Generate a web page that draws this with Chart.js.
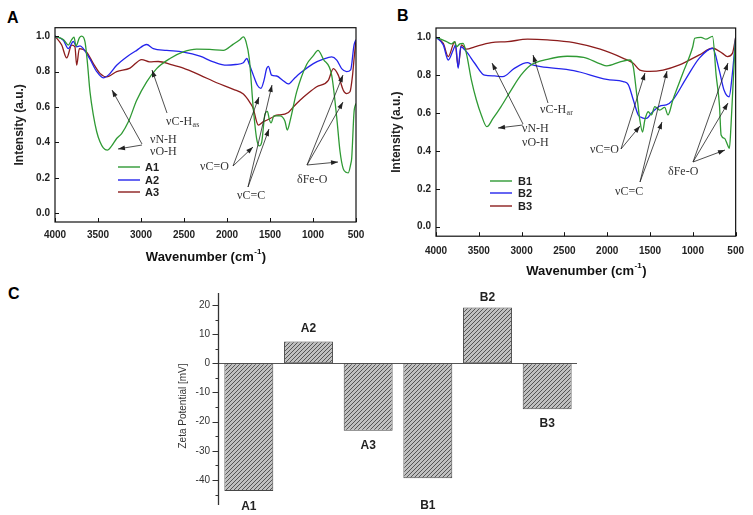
<!DOCTYPE html>
<html>
<head>
<meta charset="utf-8">
<title>FTIR spectra and zeta potential</title>
<script src="https://cdn.jsdelivr.net/npm/chart.js@4.4.1/dist/chart.umd.min.js"></script>
<style>
  html, body { margin: 0; padding: 0; background: #fff; }
  body { position: relative; width: 753px; height: 515px; overflow: hidden; }
  canvas { position: absolute; }
  .panel { position: absolute; font: bold 16px "Liberation Sans", Arial, sans-serif; line-height: 1; color: #000; }
</style>
</head>
<body>
<div class="panel" style="left:7px;top:10px">A</div>
<div class="panel" style="left:397px;top:8px">B</div>
<div class="panel" style="left:8px;top:286px">C</div>
<canvas id="chartA" width="380" height="268" style="left:0;top:0"></canvas>
<canvas id="chartB" width="373" height="282" style="left:380px;top:0"></canvas>
<canvas id="chartC" width="450" height="242" style="left:150px;top:278px"></canvas>
<script>
// ---- data ----
const wnTicks = [4000, 3500, 3000, 2500, 2000, 1500, 1000, 500];
const intTicks = [0, 0.2, 0.4, 0.6, 0.8, 1.0];

// Panel A
const a1Wn = [4000, 3900, 3845, 3806, 3779, 3756, 3717, 3690, 3651, 3624, 3593, 3554, 3515, 3477, 3438, 3392, 3341, 3283, 3225, 3147, 3050, 2934, 2818, 2663, 2508, 2353, 2200, 2043, 1926, 1850, 1810, 1780, 1740, 1694, 1655, 1624, 1597, 1558, 1530, 1508, 1488, 1453, 1384, 1326, 1299, 1267, 1190, 1074, 996, 942, 880, 783, 724, 686, 648, 610, 590, 560, 550, 523, 500];
const a1Int = [1.0, 0.98, 0.95, 0.98, 0.995, 0.945, 0.99, 1.0, 0.968, 0.855, 0.685, 0.554, 0.46, 0.403, 0.369, 0.356, 0.38, 0.422, 0.45, 0.516, 0.638, 0.742, 0.817, 0.874, 0.911, 0.927, 0.925, 0.92, 0.955, 0.98, 0.996, 0.97, 0.87, 0.59, 0.42, 0.38, 0.40, 0.56, 0.575, 0.53, 0.51, 0.55, 0.55, 0.52, 0.47, 0.52, 0.685, 0.84, 0.89, 0.92, 0.87, 0.78, 0.54, 0.35, 0.25, 0.23, 0.228, 0.28, 0.31, 0.57, 0.62];

const a2Wn = [4000, 3903, 3845, 3787, 3748, 3709, 3671, 3593, 3515, 3438, 3380, 3283, 3167, 3050, 2934, 2857, 2701, 2508, 2314, 2159, 2004, 1900, 1810, 1770, 1740, 1694, 1647, 1605, 1570, 1539, 1519, 1481, 1423, 1350, 1287, 1220, 1151, 996, 880, 783, 724, 667, 609, 562, 523, 500];
const a2Int = [1.0, 0.977, 0.93, 0.97, 0.94, 0.945, 0.93, 0.87, 0.80, 0.765, 0.78, 0.836, 0.883, 0.92, 0.953, 0.93, 0.92, 0.91, 0.887, 0.855, 0.836, 0.84, 0.85, 0.874, 0.84, 0.78, 0.723, 0.705, 0.75, 0.817, 0.83, 0.78, 0.775, 0.75, 0.73, 0.76, 0.79, 0.845, 0.87, 0.883, 0.865, 0.817, 0.80, 0.81, 0.95, 0.98];

const a3Wn = [4000, 3922, 3864, 3806, 3768, 3748, 3717, 3632, 3554, 3477, 3399, 3283, 3128, 2992, 2900, 2800, 2650, 2508, 2314, 2120, 1926, 1810, 1733, 1694, 1655, 1636, 1578, 1539, 1461, 1423, 1384, 1287, 1229, 1151, 1050, 957, 822, 764, 706, 648, 609, 570, 540, 523, 500];
const a3Int = [1.0, 0.95, 0.877, 0.95, 0.94, 0.836, 0.93, 0.91, 0.845, 0.79, 0.77, 0.80, 0.82, 0.868, 0.855, 0.857, 0.84, 0.82, 0.78, 0.737, 0.70, 0.673, 0.625, 0.59, 0.516, 0.497, 0.517, 0.525, 0.545, 0.554, 0.555, 0.569, 0.60, 0.638, 0.68, 0.714, 0.75, 0.817, 0.78, 0.695, 0.676, 0.686, 0.78, 0.87, 0.98];

// Panel B
const b1Wn = [4000, 3876, 3819, 3780, 3760, 3722, 3684, 3645, 3587, 3529, 3471, 3406, 3336, 3240, 3124, 3008, 2892, 2699, 2468, 2275, 2082, 2005, 1850, 1734, 1696, 1657, 1619, 1588, 1561, 1522, 1483, 1445, 1387, 1329, 1291, 1233, 1117, 1001, 978, 905, 847, 770, 728, 689, 670, 631, 593, 573, 554, 515, 500];
const b1Int = [1.0, 0.977, 0.965, 0.977, 0.95, 0.965, 0.968, 0.915, 0.775, 0.67, 0.59, 0.528, 0.57, 0.634, 0.72, 0.80, 0.854, 0.884, 0.90, 0.894, 0.86, 0.849, 0.87, 0.88, 0.845, 0.704, 0.563, 0.50, 0.563, 0.607, 0.59, 0.634, 0.616, 0.63, 0.59, 0.67, 0.81, 0.95, 0.995, 1.0, 0.99, 1.005, 0.80, 0.64, 0.484, 0.467, 0.43, 0.414, 0.537, 0.89, 1.0];

const b2Wn = [4000, 3915, 3857, 3799, 3770, 3741, 3711, 3645, 3548, 3433, 3317, 3220, 3085, 2931, 2873, 2777, 2391, 2005, 1812, 1754, 1696, 1638, 1590, 1542, 1483, 1387, 1310, 1233, 1078, 924, 770, 692, 635, 577, 538, 500];
const b2Int = [1.0, 0.96, 0.88, 0.933, 0.96, 0.836, 0.95, 0.924, 0.863, 0.80, 0.796, 0.792, 0.836, 0.866, 0.854, 0.845, 0.824, 0.778, 0.766, 0.75, 0.67, 0.59, 0.575, 0.572, 0.60, 0.637, 0.643, 0.67, 0.783, 0.89, 0.942, 0.827, 0.72, 0.686, 0.81, 1.0];

const b3Wn = [4000, 3915, 3857, 3780, 3741, 3703, 3645, 3548, 3355, 3162, 2931, 2699, 2391, 2082, 1812, 1696, 1619, 1503, 1349, 1156, 924, 770, 654, 596, 538, 500];
const b3Int = [1.0, 0.968, 0.898, 0.977, 0.845, 0.96, 0.937, 0.95, 0.972, 0.977, 0.99, 0.986, 0.972, 0.937, 0.889, 0.863, 0.827, 0.82, 0.827, 0.854, 0.907, 0.942, 0.915, 0.898, 0.915, 1.0];

// Panel C
const zetaLabels = ['A1', 'A2', 'A3', 'B1', 'B2', 'B3'];
const zetaValues = [-43.8, 7.5, -23.1, -39.4, 19.1, -15.8];
const zetaTicks = [20, 10, 0, -10, -20, -30, -40];
const zetaMinorTicks = [15, 5, -5, -15, -25, -35, -45];

const GREEN = '#2f9a34', BLUE = '#2424ec', RED = '#8c1d1d';
const SANS = '"Liberation Sans", Arial, sans-serif';
const SERIF = '"Liberation Serif", "Times New Roman", serif';

Chart.defaults.font.family = SANS;
Chart.defaults.color = '#222';

// ---- drawing helpers ----
function arrow(ctx, x1, y1, x2, y2) {
    ctx.beginPath();
    ctx.moveTo(x1, y1);
    ctx.lineTo(x2, y2);
    ctx.stroke();
    const a = Math.atan2(y2 - y1, x2 - x1), L = 7, W = 2.4;
    ctx.beginPath();
    ctx.moveTo(x2, y2);
    ctx.lineTo(x2 - L * Math.cos(a) + W * Math.sin(a), y2 - L * Math.sin(a) - W * Math.cos(a));
    ctx.lineTo(x2 - L * Math.cos(a) - W * Math.sin(a), y2 - L * Math.sin(a) + W * Math.cos(a));
    ctx.closePath();
    ctx.fill();
}

function xTitle(ctx, cx, cy) {
    const big = 'bold 13px ' + SANS, small = 'bold 8px ' + SANS;
    ctx.font = big;
    const w1 = ctx.measureText('Wavenumber (cm').width;
    const w3 = ctx.measureText(')').width;
    ctx.font = small;
    const w2 = ctx.measureText('-1').width;
    let x = cx - (w1 + w2 + w3) / 2;
    ctx.textAlign = 'left';
    ctx.textBaseline = 'middle';
    ctx.fillStyle = '#111';
    ctx.font = big;
    ctx.fillText('Wavenumber (cm', x, cy);
    ctx.font = small;
    ctx.fillText('-1', x + w1 + 0.5, cy - 5);
    ctx.font = big;
    ctx.fillText(')', x + w1 + w2 + 1, cy);
}

// ---- FTIR spectrum chart ----
function makeSpectrum(id, series, cfg) {
    const decor = {
        id: 'decor',
        afterDraw(chart) {
            const ctx = chart.ctx, a = chart.chartArea;
            const sx = chart.scales.x, sy = chart.scales.y;
            ctx.save();
            // frame
            ctx.strokeStyle = '#111';
            ctx.lineWidth = 1.2;
            ctx.strokeRect(a.left, a.top, a.right - a.left, a.bottom - a.top);
            // inward tick marks
            ctx.lineWidth = 1;
            ctx.beginPath();
            wnTicks.forEach(v => {
                const px = Math.round(sx.getPixelForValue(v)) + 0.5;
                ctx.moveTo(px, a.bottom);
                ctx.lineTo(px, a.bottom - 4);
            });
            intTicks.forEach(v => {
                const py = Math.round(sy.getPixelForValue(v)) + 0.5;
                ctx.moveTo(a.left, py);
                ctx.lineTo(a.left + 4, py);
            });
            ctx.stroke();

            xTitle(ctx, (a.left + a.right) / 2, cfg.xTitleY);

            // band assignments
            ctx.strokeStyle = '#222';
            ctx.fillStyle = '#222';
            ctx.lineWidth = 0.8;
            cfg.arrows.forEach(p => arrow(ctx, p[0] - cfg.dx, p[1], p[2] - cfg.dx, p[3]));
            ctx.textAlign = 'left';
            ctx.textBaseline = 'middle';
            cfg.notes.forEach(n => {
                ctx.font = '12px ' + SERIF;
                ctx.fillStyle = '#333';
                ctx.fillText(n.text, n.x - cfg.dx, n.y);
                if (n.sub) {
                    const w = ctx.measureText(n.text).width;
                    ctx.font = '8px ' + SERIF;
                    ctx.fillText(n.sub, n.x - cfg.dx + w + 0.5, n.y + 3);
                }
            });

            // legend
            series.forEach((s, i) => {
                const y = cfg.legend.y[i];
                ctx.strokeStyle = s.color;
                ctx.lineWidth = 1.4;
                ctx.beginPath();
                ctx.moveTo(cfg.legend.x0 - cfg.dx, y);
                ctx.lineTo(cfg.legend.x1 - cfg.dx, y);
                ctx.stroke();
                ctx.fillStyle = '#222';
                ctx.font = 'bold 11px ' + SANS;
                ctx.fillText(s.name, cfg.legend.tx - cfg.dx, y + 0.5);
            });
            ctx.restore();
        }
    };

    return new Chart(document.getElementById(id), {
        type: 'line',
        data: {
            datasets: series.map(s => ({
                label: s.name,
                data: s.wn.map((w, i) => ({ x: w, y: s.val[i] })),
                borderColor: s.color,
                borderWidth: 1.3,
                pointRadius: 0,
                cubicInterpolationMode: 'monotone',
                fill: false
            }))
        },
        options: {
            responsive: false,
            animation: false,
            events: [],
            layout: { padding: { top: cfg.top, right: cfg.right, left: 0, bottom: 0 } },
            plugins: { legend: { display: false }, tooltip: { enabled: false } },
            scales: {
                x: {
                    type: 'linear', reverse: true, min: 500, max: 4000,
                    afterBuildTicks: s => { s.ticks = wnTicks.map(v => ({ value: v })); },
                    afterFit: s => { s.height = cfg.xAxisH; },
                    grid: { display: false, drawTicks: false },
                    border: { display: false },
                    ticks: { padding: cfg.xTickPad, maxRotation: 0, autoSkip: false, color: '#222',
                             font: { size: 10, weight: 'bold' }, callback: v => String(v) }
                },
                y: {
                    min: -0.05, max: cfg.ymax,
                    afterBuildTicks: s => { s.ticks = intTicks.map(v => ({ value: v })); },
                    afterFit: s => { s.width = cfg.yAxisW; },
                    grid: { display: false, drawTicks: false },
                    border: { display: false },
                    ticks: { padding: 5, color: '#222', font: { size: 10, weight: 'bold' },
                             callback: v => v.toFixed(1) },
                    title: { display: true, text: 'Intensity (a.u.)', color: '#222',
                             font: { size: 12, weight: 'bold' },
                             padding: { top: cfg.yTitlePad, bottom: 0 } }
                }
            }
        },
        plugins: [decor]
    });
}

makeSpectrum('chartA', [
    { name: 'A1', wn: a1Wn, val: a1Int, color: GREEN },
    { name: 'A2', wn: a2Wn, val: a2Int, color: BLUE },
    { name: 'A3', wn: a3Wn, val: a3Int, color: RED }
], {
    dx: 0, top: 27.7, right: 24, ymax: 1.048, xAxisH: 46, yAxisW: 55,
    xTickPad: 7, yTitlePad: 12.5, xTitleY: 257,
    legend: { x0: 118, x1: 140, tx: 145, y: [167, 180, 192] },
    notes: [
        { text: 'νN-H', x: 150, y: 140 },
        { text: 'νO-H', x: 150, y: 152 },
        { text: 'νC-H', sub: 'as', x: 166, y: 122 },
        { text: 'νC=O', x: 200, y: 167 },
        { text: 'νC=C', x: 237, y: 196 },
        { text: 'δFe-O', x: 297, y: 180 }
    ],
    arrows: [
        [142, 144, 112, 90], [142, 145, 118, 149],
        [167, 113, 152, 70],
        [233, 166, 259, 97], [233, 166, 253, 147],
        [248, 187, 272, 85], [248, 187, 269, 129],
        [307, 165, 343, 75], [307, 165, 343, 102], [307, 165, 338, 162]
    ]
});

makeSpectrum('chartB', [
    { name: 'B1', wn: b1Wn, val: b1Int, color: GREEN },
    { name: 'B2', wn: b2Wn, val: b2Int, color: BLUE },
    { name: 'B3', wn: b3Wn, val: b3Int, color: RED }
], {
    dx: 380, top: 28, right: 15, ymax: 1.049, xAxisH: 45.8, yAxisW: 56,
    xTickPad: 9, yTitlePad: 9.5, xTitleY: 271,
    legend: { x0: 490, x1: 512, tx: 518, y: [181, 193, 206] },
    notes: [
        { text: 'νN-H', x: 522, y: 129 },
        { text: 'νO-H', x: 522, y: 143 },
        { text: 'νC-H', sub: 'ar', x: 540, y: 110 },
        { text: 'νC=O', x: 590, y: 150 },
        { text: 'νC=C', x: 615, y: 192 },
        { text: 'δFe-O', x: 668, y: 172 }
    ],
    arrows: [
        [523, 124, 492, 63], [523, 125, 498, 128],
        [548, 103, 533, 55],
        [621, 149, 645, 73], [621, 149, 640, 126],
        [640, 182, 667, 71], [640, 182, 662, 122],
        [693, 162, 728, 63], [693, 162, 728, 103], [693, 162, 725, 150]
    ]
});

// ---- zeta potential bar chart ----
const ctxC = document.getElementById('chartC').getContext('2d');
function hatchPattern() {
    const c = document.createElement('canvas');
    c.width = 4; c.height = 4;
    const g = c.getContext('2d');
    g.fillStyle = '#c0c0c0';
    g.fillRect(0, 0, 4, 4);
    g.strokeStyle = '#555';
    g.lineWidth = 1;
    g.beginPath();
    g.moveTo(0, 4); g.lineTo(4, 0);
    g.moveTo(-1, 1); g.lineTo(1, -1);
    g.moveTo(3, 5); g.lineTo(5, 3);
    g.stroke();
    return ctxC.createPattern(c, 'repeat');
}

const labelOffsets = [16, -13, 15, 28, -10, 14];

const zetaDecor = {
    id: 'zetaDecor',
    beforeDatasetsDraw(chart) {
        const ctx = chart.ctx, a = chart.chartArea, sy = chart.scales.y;
        ctx.save();
        const y0 = Math.round(sy.getPixelForValue(0)) + 0.5;
        ctx.strokeStyle = '#555';
        ctx.lineWidth = 1.2;
        ctx.beginPath();
        ctx.moveTo(a.left, y0);
        ctx.lineTo(a.right, y0);
        ctx.stroke();
        ctx.restore();
    },
    afterDraw(chart) {
        const ctx = chart.ctx, a = chart.chartArea, sy = chart.scales.y;
        ctx.save();
        // axis line and tick marks
        const ax = Math.round(a.left) - 0.5;
        ctx.strokeStyle = '#333';
        ctx.lineWidth = 1.3;
        ctx.beginPath();
        ctx.moveTo(ax, a.top);
        ctx.lineTo(ax, a.bottom);
        ctx.stroke();
        ctx.lineWidth = 1;
        ctx.beginPath();
        zetaTicks.forEach(v => {
            const py = Math.round(sy.getPixelForValue(v)) + 0.5;
            ctx.moveTo(ax, py); ctx.lineTo(ax - 6, py);
        });
        zetaMinorTicks.forEach(v => {
            const py = Math.round(sy.getPixelForValue(v)) + 0.5;
            ctx.moveTo(ax, py); ctx.lineTo(ax - 3, py);
        });
        ctx.stroke();

        // axis title
        ctx.save();
        ctx.translate(33, 128);
        ctx.rotate(-Math.PI / 2);
        ctx.font = '10px ' + SANS;
        ctx.fillStyle = '#333';
        ctx.textAlign = 'center';
        ctx.textBaseline = 'middle';
        ctx.fillText('Zeta Potential [mV]', 0, 0);
        ctx.restore();

        // bar names
        const meta = chart.getDatasetMeta(0);
        ctx.font = 'bold 12px ' + SANS;
        ctx.fillStyle = '#222';
        ctx.textAlign = 'center';
        ctx.textBaseline = 'middle';
        meta.data.forEach((bar, i) => {
            ctx.fillText(zetaLabels[i], bar.x, bar.y + labelOffsets[i]);
        });
        ctx.restore();
    }
};

new Chart(ctxC, {
    type: 'bar',
    data: {
        labels: zetaLabels,
        datasets: [{
            data: zetaValues,
            backgroundColor: hatchPattern(),
            borderColor: '#474747',
            borderWidth: 1,
            borderSkipped: false,
            barPercentage: 0.82,
            categoryPercentage: 1
        }]
    },
    options: {
        responsive: false,
        animation: false,
        events: [],
        layout: { padding: { top: 15, right: 23, left: 0, bottom: 15 } },
        plugins: { legend: { display: false }, tooltip: { enabled: false } },
        scales: {
            x: { display: false },
            y: {
                min: -48.6, max: 24.1,
                afterBuildTicks: s => { s.ticks = zetaTicks.map(v => ({ value: v })); },
                afterFit: s => { s.width = 69; },
                grid: { display: false, drawTicks: false },
                border: { display: false },
                ticks: { padding: 9, color: '#333', font: { size: 10 } }
            }
        }
    },
    plugins: [zetaDecor]
});
</script>
</body>
</html>
